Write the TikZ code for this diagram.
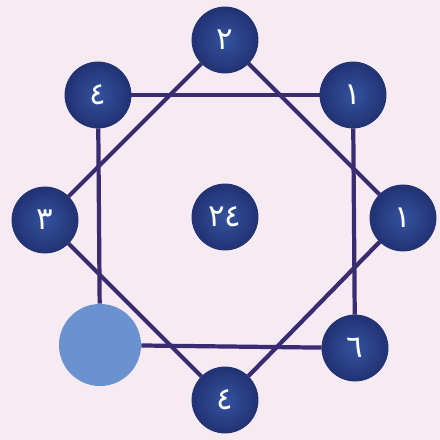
\documentclass[tikz,border=0pt]{standalone}
\usepackage{fontspec}
\usepackage{xcolor}
\usepackage{tikz}
\usetikzlibrary{backgrounds}
\newfontfamily\arabicfont[Script=Arabic]{DejaVu Sans}
\TeXXeTstate=1
\definecolor{bgpink}{HTML}{F6EAF3}
\definecolor{ballblue}{HTML}{34529F}
\definecolor{balledge}{HTML}{223273}
\definecolor{ballpale}{HTML}{6A92CE}
\definecolor{linenavy}{HTML}{3A2C70}

\begin{document}
\begin{tikzpicture}[
    x=0.025cm, y=-0.025cm,
    ball/.style={circle, minimum size=1.65cm, inner sep=0pt, draw=balledge, line width=0.6pt,
        inner color=ballblue, outer color=balledge, text=white,
        font=\arabicfont\fontsize{22}{24}\selectfont},
    paleball/.style={circle, minimum size=2.05cm, inner sep=0pt, fill=ballpale},
    edge/.style={draw=linenavy, line width=3pt}
]
\useasboundingbox (0,0) rectangle (440,440);
% corners of the upright square
\node[ball] (topleft) at (98,95) {٤};
\node[ball] (topright) at (353,95) {١};
\node[ball] (botright) at (355,348) {٦};
\node[paleball] (botleft) at (100,345) {};
% corners of the turned square
\node[ball] (top) at (225,40) {٢};
\node[ball] (right) at (403,218) {١};
\node[ball] (bot) at (225,400) {٤};
\node[ball] (left) at (45,220) {٣};
\node[ball] (mid) at (225,217) {٢٤};
\begin{pgfonlayer}{background}
\fill[bgpink] (0,0) rectangle (440,440);
\draw[edge] (topleft) -- (topright);
\draw[edge] (topright) -- (botright);
\draw[edge] (botright) -- (botleft);
\draw[edge] (botleft) -- (topleft);
\draw[edge] (top) -- (right);
\draw[edge] (right) -- (bot);
\draw[edge] (bot) -- (left);
\draw[edge] (left) -- (top);
\end{pgfonlayer}
\end{tikzpicture}
\end{document}
